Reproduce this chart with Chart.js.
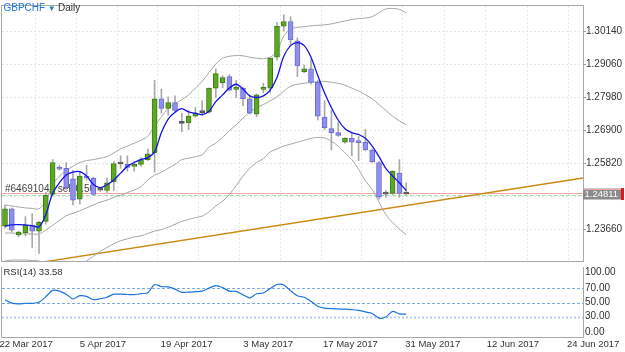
<!DOCTYPE html>
<html>
<head>
<meta charset="utf-8">
<script src="https://cdn.jsdelivr.net/npm/chart.js@4.4.1/dist/chart.umd.min.js"></script>
<style>
  html, body { margin: 0; padding: 0; background: #fff; }
  #wrap { position: relative; width: 625px; height: 352px; overflow: hidden; }
  #priceChart { position: absolute; left: 0; top: 0; }
  #rsiChart { position: absolute; left: 0; top: 267px; }
</style>
</head>
<body>
<div id="wrap">
  <canvas id="priceChart" width="625" height="268"></canvas>
  <canvas id="rsiChart" width="625" height="85"></canvas>
</div>
<script>
// GBPCHF daily candles, 60 bars (index 0 = first bar on the left)
const opens = [
  1.23754, 1.24324, 1.23469, 1.23542, 1.23786, 1.23596, 1.23912, 1.24799, 1.25685, 1.25654,
  1.25306, 1.24641, 1.25401, 1.25337, 1.24957, 1.24926, 1.25211, 1.25812, 1.25780, 1.25717,
  1.25780, 1.25939, 1.26160, 1.27933, 1.27617, 1.27807, 1.27142, 1.27142, 1.27363, 1.27481,
  1.27490, 1.28282, 1.28449, 1.28661, 1.28240, 1.28282, 1.27933, 1.27427, 1.28240, 1.28282,
  1.29295, 1.30308, 1.30466, 1.29833, 1.28820, 1.28915, 1.28472, 1.27332, 1.26952, 1.26825,
  1.26509, 1.26635, 1.26540, 1.26509, 1.26255, 1.25844, 1.24808, 1.24831, 1.25495, 1.24820
];
const highs = [
  1.24451, 1.24356, 1.23596, 1.24071, 1.24166, 1.23912, 1.24862, 1.25939, 1.25749, 1.25844,
  1.25590, 1.25559, 1.25749, 1.25369, 1.25021, 1.25337, 1.25875, 1.26065, 1.26065, 1.25875,
  1.26002, 1.26287, 1.28535, 1.28250, 1.27997, 1.28028, 1.27458, 1.27553, 1.27648, 1.27870,
  1.28282, 1.28915, 1.28693, 1.28725, 1.28535, 1.28313, 1.27997, 1.28092, 1.28440, 1.29263,
  1.30434, 1.30688, 1.30624, 1.29928, 1.29041, 1.29231, 1.28535, 1.27870, 1.27553, 1.27173,
  1.26651, 1.26825, 1.26699, 1.26920, 1.26287, 1.25875, 1.24926, 1.25568, 1.25939, 1.25179
];
const lows = [
  1.23691, 1.23564, 1.23406, 1.23438, 1.23058, 1.22868, 1.23818, 1.24736, 1.25590, 1.24957,
  1.24451, 1.24482, 1.25274, 1.24767, 1.24894, 1.24862, 1.24926, 1.25654, 1.25559, 1.25559,
  1.25717, 1.25907, 1.25527, 1.27458, 1.27395, 1.27522, 1.26857, 1.26920, 1.27332, 1.27395,
  1.27458, 1.27974, 1.28297, 1.28187, 1.27974, 1.27696, 1.27427, 1.27341, 1.28123, 1.28133,
  1.29200, 1.30150, 1.29706, 1.28661, 1.28788, 1.28408, 1.27237, 1.26920, 1.26255, 1.26699,
  1.26477, 1.26065, 1.25907, 1.26224, 1.25844, 1.24641, 1.24704, 1.24799, 1.24704, 1.24790
];
const closes = [
  1.24324, 1.23628, 1.23564, 1.23786, 1.23596, 1.23881, 1.24767, 1.25844, 1.25622, 1.25021,
  1.24609, 1.25401, 1.25337, 1.24799, 1.24941, 1.25179, 1.25812, 1.25796, 1.25685, 1.25780,
  1.25939, 1.26129, 1.27933, 1.27617, 1.27807, 1.27553, 1.27126, 1.27363, 1.27458, 1.27490,
  1.28282, 1.28756, 1.28630, 1.28218, 1.28291, 1.27933, 1.27458, 1.28060, 1.28291, 1.29263,
  1.30308, 1.30466, 1.29865, 1.29010, 1.28915, 1.28472, 1.27363, 1.26984, 1.26825, 1.26730,
  1.26635, 1.26509, 1.26493, 1.26255, 1.25875, 1.24704, 1.24815, 1.25559, 1.24831, 1.24811
];

// blue moving average
const maLine = [
  1.23754, 1.23802, 1.23808, 1.23802, 1.23770, 1.23739, 1.24134, 1.24831, 1.25179, 1.25432,
  1.25527, 1.25543, 1.25401, 1.25125, 1.25021, 1.25116, 1.25274, 1.25495, 1.25717, 1.25844,
  1.25939, 1.26002, 1.26192, 1.26825, 1.27268, 1.27490, 1.27607, 1.27500, 1.27458, 1.27411,
  1.27522, 1.27838, 1.28060, 1.28282, 1.28408, 1.28250, 1.28028, 1.27974, 1.28028, 1.28218,
  1.28630, 1.29326, 1.29675, 1.29770, 1.29675, 1.29295, 1.28693, 1.28123, 1.27648, 1.27237,
  1.26952, 1.26825, 1.26762, 1.26635, 1.26382, 1.26034, 1.25654, 1.25401, 1.25179, 1.24926
];

// bollinger bands (grey)
const bandUpper = [
  1.24451, 1.24419, 1.24387, 1.24356, 1.24340, 1.24324, 1.24577, 1.25116, 1.25401, 1.25590,
  1.25717, 1.25844, 1.25907, 1.25939, 1.25986, 1.26034, 1.26160, 1.26287, 1.26382, 1.26477,
  1.26572, 1.26699, 1.27047, 1.27332, 1.27617, 1.27775, 1.27902, 1.28060, 1.28282, 1.28503,
  1.28788, 1.29073, 1.29263, 1.29326, 1.29349, 1.29342, 1.29295, 1.29263, 1.29247, 1.29295,
  1.29485, 1.29991, 1.30213, 1.30276, 1.30292, 1.30324, 1.30340, 1.30355, 1.30387, 1.30435,
  1.30482, 1.30529, 1.30561, 1.30577, 1.30624, 1.30751, 1.30878, 1.30894, 1.30862, 1.30751
];
const bandMiddle = [
  1.23533, 1.23533, 1.23517, 1.23501, 1.23501, 1.23501, 1.23628, 1.23786, 1.23944, 1.24103,
  1.24175, 1.24261, 1.24356, 1.24451, 1.24546, 1.24609, 1.24704, 1.24767, 1.24862, 1.24941,
  1.25052, 1.25274, 1.25432, 1.25527, 1.25654, 1.25780, 1.25939, 1.25986, 1.26034, 1.26097,
  1.26350, 1.26477, 1.26667, 1.26889, 1.27079, 1.27300, 1.27490, 1.27648, 1.27743, 1.27870,
  1.27997, 1.28187, 1.28345, 1.28408, 1.28440, 1.28472, 1.28503, 1.28503, 1.28472, 1.28440,
  1.28377, 1.28282, 1.28187, 1.28060, 1.27933, 1.27743, 1.27553, 1.27363, 1.27205, 1.27079
];
const bandLower = [
  1.22614, 1.22646, 1.22646, 1.22646, 1.22630, 1.22614, 1.22488, 1.22330, 1.22235, 1.22235,
  1.22298, 1.22425, 1.22614, 1.22773, 1.22931, 1.23058, 1.23184, 1.23279, 1.23343, 1.23406,
  1.23438, 1.23517, 1.23596, 1.23643, 1.23723, 1.23818, 1.23913, 1.23976, 1.24039, 1.24087,
  1.24229, 1.24419, 1.24577, 1.24799, 1.25084, 1.25401, 1.25654, 1.25844, 1.25970, 1.26192,
  1.26287, 1.26382, 1.26445, 1.26509, 1.26572, 1.26635, 1.26667, 1.26651, 1.26540, 1.26382,
  1.26160, 1.25939, 1.25622, 1.25242, 1.24957, 1.24546, 1.24134, 1.23881, 1.23659, 1.23469
];

// RSI(14)
const rsi = [
  53.9, 49.1, 48.1, 48.9, 48.9, 50.3, 58.1, 67.1, 66.0, 61.7,
  54.9, 59.6, 58.6, 53.9, 55.3, 57.4, 61.7, 61.7, 61.3, 61.0,
  62.4, 63.9, 75.3, 72.4, 72.0, 68.9, 64.3, 64.6, 65.3, 66.0,
  70.3, 73.9, 71.0, 66.0, 65.7, 61.0, 56.3, 62.4, 63.4, 69.6,
  75.3, 74.6, 66.7, 59.6, 57.4, 51.7, 44.6, 42.0, 41.3, 41.0,
  40.6, 39.9, 38.9, 36.7, 34.6, 28.1, 29.6, 37.4, 33.9, 33.58
];

// trend line (bar index, price)
const trendX = [3, 85];
const trendY = [1.22492, 1.25334];

// order / bid lines
const orderLabel = '#64691047 sell 0.50';
const orderPrice = 1.24845;
const bidPrice = 1.24795;

// axes
const priceTicks = [1.30140, 1.29060, 1.27980, 1.26900, 1.25820, 1.24740, 1.23660];
const rsiTicks = [100, 70, 50, 30, 0];
const rsiLevels = [70, 50, 30];
const dateTickPos = [3.1, 14.4, 26.7, 38.7, 50.8, 62.9, 74.7, 86.5];
const dateLabels = ['22 Mar 2017', '5 Apr 2017', '19 Apr 2017', '3 May 2017', '17 May 2017', '31 May 2017', '12 Jun 2017', '24 Jun 2017'];
const gridPos = [4.5, 10.5, 16.5, 22.5, 28.5, 34.5, 40.5, 46.5, 52.5, 58.5, 64.6, 70.7, 76.8, 82.9];

const xMin = -0.44, xMax = 85.0;
const priceMin = 1.22583, priceMax = 1.30973;
const lastClose = closes[closes.length - 1];

const FONT = "'Liberation Sans', Arial, Helvetica, sans-serif";
Chart.defaults.font.family = FONT;

const pts = arr => arr.map((v, i) => ({x: i, y: v}));

const bodyFill = opens.map((o, i) => {
  const c = closes[i];
  if (Math.abs(c - o) < 0.0002) return '#555555';
  return c > o ? '#5da823' : '#8f8ff0';
});
const bodyEdge = opens.map((o, i) => {
  const c = closes[i];
  if (Math.abs(c - o) < 0.0002) return '#555555';
  return c > o ? '#3e7d14' : '#6c6cd4';
});

const line = (data, color, width, tension, order) => ({
  type: 'line', data: pts(data), borderColor: color, borderWidth: width,
  pointRadius: 0, tension: tension, order: order, fill: false
});

const priceOverlay = {
  id: 'priceOverlay',
  beforeDatasetsDraw(chart) {
    const {ctx, chartArea: a, scales: {y}} = chart;
    ctx.save();
    ctx.font = '10px ' + FONT;
    ctx.fillStyle = '#444';
    ctx.textBaseline = 'middle';
    ctx.fillText(orderLabel, a.left + 3, y.getPixelForValue(orderPrice) - 4.2);

    let py = Math.round(y.getPixelForValue(orderPrice)) + 0.5;
    ctx.strokeStyle = '#f2a5a5';
    ctx.lineWidth = 1;
    ctx.beginPath(); ctx.moveTo(a.left, py); ctx.lineTo(a.right, py); ctx.stroke();

    py = Math.round(y.getPixelForValue(bidPrice)) + 0.5;
    ctx.strokeStyle = '#a3e3aa';
    ctx.setLineDash([4, 2]);
    ctx.beginPath(); ctx.moveTo(a.left, py); ctx.lineTo(a.right, py); ctx.stroke();
    ctx.restore();
  },
  afterDraw(chart) {
    const {ctx, chartArea: a, scales: {y}} = chart;
    ctx.save();
    // frame
    ctx.strokeStyle = '#a8a8a8';
    ctx.lineWidth = 1;
    ctx.strokeRect(a.left - 0.5, a.top - 0.5, a.right - a.left + 1, a.bottom - a.top);

    // title
    ctx.textBaseline = 'middle';
    ctx.font = '10px ' + FONT;
    ctx.fillStyle = '#1f78dc';
    ctx.fillText('GBPCHF', 3.5, 8.5);
    let x = 3.5 + ctx.measureText('GBPCHF').width + 2.5;
    ctx.font = '8px ' + FONT;
    ctx.fillText('▼', x, 9);
    x += ctx.measureText('▼').width + 2.5;
    ctx.font = '10px ' + FONT;
    ctx.fillStyle = '#333';
    ctx.fillText('Daily', x, 8.5);

    // last price box
    const cy = y.getPixelForValue(lastClose);
    ctx.fillStyle = '#8a8a8a';
    ctx.fillRect(a.right, cy - 5.5, 38, 11);
    ctx.fillStyle = '#e3161f';
    ctx.fillRect(a.right + 38, cy - 6, 3, 12);
    ctx.strokeStyle = '#f2a5a5';
    ctx.beginPath(); ctx.moveTo(a.right, Math.round(cy - 5.5) + 0.5); ctx.lineTo(a.right + 38, Math.round(cy - 5.5) + 0.5); ctx.stroke();
    ctx.fillStyle = '#ffffff';
    ctx.font = '9.5px ' + FONT;
    ctx.fillText(lastClose.toFixed(5), a.right + 1.5, cy + 0.5);
    ctx.restore();
  }
};

new Chart(document.getElementById('priceChart'), {
  type: 'bar',
  data: {
    datasets: [
      line(maLine, '#1414e0', 1.3, 0.35, 0),
      {
        type: 'bar', data: opens.map((o, i) => ({x: i, y: [o, closes[i]]})),
        backgroundColor: bodyFill, borderColor: bodyEdge, borderWidth: 1,
        borderSkipped: false, barThickness: 5, grouped: false, minBarLength: 2, order: 1
      },
      {
        type: 'bar', data: lows.map((l, i) => ({x: i, y: [l, highs[i]]})),
        backgroundColor: '#a9a9a9', borderWidth: 0, barThickness: 1, grouped: false, order: 2
      },
      line(bandUpper, '#a0ab9f', 1, 0.3, 3),
      line(bandMiddle, '#a0ab9f', 1, 0.3, 3),
      line(bandLower, '#a0ab9f', 1, 0.3, 3),
      {
        type: 'line', data: trendX.map((v, i) => ({x: v, y: trendY[i]})),
        borderColor: '#c98a12', borderWidth: 1.4, pointRadius: 0, order: 4
      }
    ]
  },
  options: {
    responsive: false,
    animation: false,
    devicePixelRatio: 1,
    layout: {padding: {left: 2, top: 2, right: 0, bottom: 1}},
    plugins: {legend: {display: false}, tooltip: {enabled: false}},
    scales: {
      x: {
        type: 'linear', min: xMin, max: xMax, offset: false, position: 'bottom',
        afterBuildTicks: s => { s.ticks = gridPos.map(v => ({value: v})); },
        afterFit: s => { s.height = 0; s.paddingLeft = 0; s.paddingRight = 0; },
        ticks: {display: false},
        grid: {offset: false, color: '#e8e8e8', drawTicks: false},
        border: {display: false, dash: [2, 2]}
      },
      y: {
        position: 'right', min: priceMin, max: priceMax,
        afterBuildTicks: s => { s.ticks = priceTicks.map(v => ({value: v})); },
        afterFit: s => { s.width = 42; },
        ticks: {
          color: '#333', padding: 0, font: {size: 10},
          callback: v => Math.abs(v - lastClose) < 0.002 ? '' : v.toFixed(5)
        },
        grid: {color: '#e6e6e6', tickColor: '#9a9a9a', tickLength: 3, tickBorderDash: []},
        border: {display: false, dash: [2, 2]}
      }
    }
  },
  plugins: [priceOverlay]
});

const rsiOverlay = {
  id: 'rsiOverlay',
  beforeDatasetsDraw(chart) {
    const {ctx, chartArea: a, scales: {y}} = chart;
    ctx.save();
    rsiLevels.forEach(v => {
      const py = Math.round(y.getPixelForValue(v)) + 0.5;
      if (v === 30) {
        ctx.strokeStyle = '#b4cef0'; ctx.lineWidth = 2; ctx.setLineDash([2, 2]);
      } else {
        ctx.strokeStyle = '#7da9e2'; ctx.lineWidth = 1; ctx.setLineDash([3, 2]);
      }
      ctx.beginPath(); ctx.moveTo(a.left, py); ctx.lineTo(a.right, py); ctx.stroke();
    });
    ctx.setLineDash([]);
    ctx.font = '9.5px ' + FONT;
    ctx.fillStyle = '#333';
    ctx.textBaseline = 'middle';
    ctx.fillText('RSI(14) ' + rsi[rsi.length - 1].toFixed(2), 3.5, 5.7);
    ctx.restore();
  },
  afterDraw(chart) {
    const {ctx, chartArea: a, scales: {y}} = chart;
    ctx.save();
    ctx.strokeStyle = '#a8a8a8';
    ctx.lineWidth = 1;
    ctx.beginPath();
    ctx.moveTo(a.left - 0.5, a.top);
    ctx.lineTo(a.left - 0.5, a.bottom - 0.5);
    ctx.lineTo(a.right + 0.5, a.bottom - 0.5);
    ctx.lineTo(a.right + 0.5, a.top);
    ctx.stroke();
    ctx.font = '10px ' + FONT;
    ctx.fillStyle = '#333';
    ctx.textBaseline = 'middle';
    rsiTicks.forEach(v => {
      let py = y.getPixelForValue(v);
      py = Math.min(Math.max(py, a.top + 5.5), a.bottom - 5.5);
      ctx.fillText(v.toFixed(2), a.right + 2, py);
    });
    ctx.restore();
  }
};

new Chart(document.getElementById('rsiChart'), {
  type: 'line',
  data: {
    datasets: [
      {data: pts(rsi), borderColor: '#1c74dc', borderWidth: 1.2, pointRadius: 0, tension: 0.25, fill: false}
    ]
  },
  options: {
    responsive: false,
    animation: false,
    devicePixelRatio: 1,
    layout: {padding: {left: 2, top: 0, right: 0, bottom: 0}},
    plugins: {legend: {display: false}, tooltip: {enabled: false}},
    scales: {
      x: {
        type: 'linear', min: xMin, max: xMax, offset: false, position: 'bottom',
        afterBuildTicks: s => { s.ticks = dateTickPos.map(v => ({value: v})); },
        afterFit: s => { s.height = 14; s.paddingLeft = 0; s.paddingRight = 0; },
        ticks: {
          autoSkip: false, maxRotation: 0, minRotation: 0, padding: 1,
          color: '#333', font: {size: 9.5},
          callback: (v, i) => dateLabels[i]
        },
        grid: {display: false, drawTicks: false},
        border: {display: false}
      },
      y: {
        position: 'right', min: 0, max: 100,
        afterFit: s => { s.width = 42; },
        ticks: {display: false},
        grid: {display: false, drawTicks: false},
        border: {display: false}
      }
    }
  },
  plugins: [rsiOverlay]
});
</script>
</body>
</html>
